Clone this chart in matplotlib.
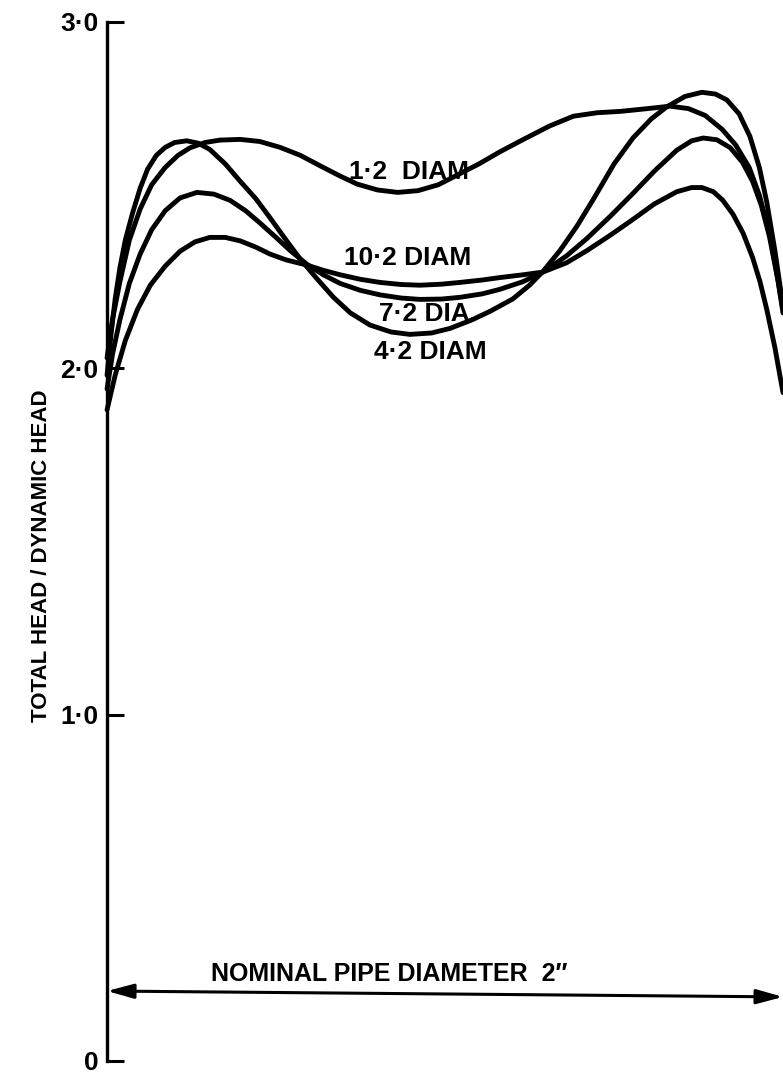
import matplotlib.pyplot as plt

# position across the pipe, as a fraction of the diameter (0 = one wall, 1 = the other)
x_42 = [0.0, 0.006, 0.012, 0.019, 0.027, 0.038, 0.049, 0.060, 0.073, 0.086, 0.100,
        0.118, 0.135, 0.152, 0.175, 0.197, 0.220, 0.241, 0.265, 0.286, 0.310, 0.335,
        0.360, 0.389, 0.420, 0.448, 0.480, 0.507, 0.540, 0.567, 0.600, 0.625, 0.645,
        0.670, 0.695, 0.720, 0.750, 0.778, 0.805, 0.828, 0.855, 0.880, 0.900, 0.917,
        0.935, 0.951, 0.965, 0.976, 0.988, 1.0]
head_42 = [1.98, 2.10, 2.20, 2.29, 2.37, 2.45, 2.52, 2.575, 2.615, 2.638, 2.652,
           2.657, 2.65, 2.632, 2.59, 2.54, 2.49, 2.435, 2.37, 2.315, 2.26, 2.205,
           2.16, 2.125, 2.105, 2.098, 2.102, 2.115, 2.14, 2.165, 2.20, 2.24, 2.28,
           2.34, 2.41, 2.49, 2.59, 2.665, 2.72, 2.755, 2.785, 2.797, 2.792, 2.775,
           2.735, 2.67, 2.58, 2.48, 2.34, 2.18]

x_12 = [0.0, 0.008, 0.019, 0.033, 0.049, 0.066, 0.086, 0.105, 0.123, 0.145, 0.167,
        0.197, 0.226, 0.256, 0.286, 0.315, 0.345, 0.370, 0.400, 0.430, 0.460, 0.490,
        0.520, 0.550, 0.581, 0.615, 0.655, 0.690, 0.725, 0.760, 0.800, 0.833, 0.860,
        0.885, 0.910, 0.930, 0.950, 0.965, 0.980, 0.993, 1.0]
head_12 = [2.03, 2.14, 2.25, 2.37, 2.46, 2.53, 2.58, 2.615, 2.637, 2.652, 2.659,
           2.661, 2.655, 2.638, 2.615, 2.585, 2.555, 2.532, 2.515, 2.508, 2.513, 2.53,
           2.56, 2.59, 2.625, 2.66, 2.70, 2.728, 2.738, 2.742, 2.75, 2.757, 2.75,
           2.73, 2.69, 2.645, 2.58, 2.50, 2.39, 2.25, 2.17]

x_72 = [0.0, 0.008, 0.019, 0.033, 0.049, 0.066, 0.086, 0.108, 0.133, 0.158, 0.182,
        0.205, 0.226, 0.250, 0.271, 0.296, 0.320, 0.345, 0.375, 0.404, 0.435, 0.463,
        0.495, 0.522, 0.555, 0.581, 0.615, 0.645, 0.680, 0.710, 0.745, 0.778, 0.810,
        0.843, 0.865, 0.882, 0.902, 0.922, 0.940, 0.955, 0.968, 0.980, 0.992, 1.0]
head_72 = [1.94, 2.04, 2.14, 2.245, 2.33, 2.40, 2.455, 2.492, 2.508, 2.503, 2.485,
           2.455, 2.42, 2.378, 2.34, 2.30, 2.27, 2.245, 2.225, 2.212, 2.203, 2.199,
           2.20, 2.205, 2.215, 2.228, 2.25, 2.278, 2.325, 2.375, 2.44, 2.505, 2.57,
           2.63, 2.657, 2.665, 2.66, 2.637, 2.595, 2.54, 2.47, 2.38, 2.26, 2.16]

x_102 = [0.0, 0.012, 0.027, 0.045, 0.064, 0.086, 0.108, 0.130, 0.152, 0.175, 0.197,
         0.220, 0.241, 0.265, 0.296, 0.320, 0.345, 0.375, 0.404, 0.435, 0.463, 0.495,
         0.522, 0.555, 0.581, 0.615, 0.645, 0.680, 0.710, 0.745, 0.778, 0.810, 0.843,
         0.865, 0.880, 0.897, 0.911, 0.926, 0.941, 0.955, 0.966, 0.976, 0.988, 1.0]
head_102 = [1.88, 1.98, 2.08, 2.17, 2.24, 2.295, 2.338, 2.365, 2.378, 2.378, 2.368,
            2.35, 2.33, 2.313, 2.298, 2.283, 2.27, 2.257, 2.248, 2.242, 2.24, 2.243,
            2.248, 2.255, 2.262, 2.27, 2.278, 2.305, 2.34, 2.385, 2.43, 2.475, 2.51,
            2.522, 2.522, 2.51, 2.485, 2.445, 2.39, 2.32, 2.25, 2.17, 2.06, 1.93]

# double-headed arrow marking the pipe wall to wall
arrow_y_left = 0.202
arrow_y_right = 0.185

y_ticks = [0, 1, 2, 3]
y_tick_labels = ['0', '1·0', '2·0', '3·0']

font = ['Liberation Sans', 'DejaVu Sans']

fig = plt.figure(figsize=(7.83, 10.73), dpi=100)
ax = fig.add_axes([0.1367, 0.0112, 0.8633, 0.9683])

line_style = dict(color='black', lw=3.5, solid_joinstyle='round',
                  solid_capstyle='round', clip_on=False)
ax.plot(x_42, head_42, **line_style)
ax.plot(x_12, head_12, **line_style)
ax.plot(x_72, head_72, **line_style)
ax.plot(x_102, head_102, **line_style)

label_style = dict(family=font, weight='bold', fontsize=19, ha='center', va='center')
ax.text(0.447, 2.567, '1·2  DIAM', **label_style)
ax.text(0.445, 2.319, '10·2 DIAM', **label_style)
ax.text(0.475, 2.157, '7·2 DIA.', **label_style)
ax.text(0.478, 2.047, '4·2 DIAM', **label_style)

ax.annotate('', xy=(1.0, arrow_y_right), xytext=(0.0, arrow_y_left),
            arrowprops=dict(arrowstyle='<|-|>,head_length=0.8,head_width=0.22',
                            mutation_scale=20, lw=2.2, color='black',
                            shrinkA=0, shrinkB=0),
            annotation_clip=False)
ax.text(0.417, 0.251, 'NOMINAL PIPE DIAMETER  2″', family=font, weight='bold',
        fontsize=18, ha='center', va='center')

ax.set_xlim(0, 1)
ax.set_ylim(0, 3)
for side in ['top', 'right', 'bottom']:
    ax.spines[side].set_visible(False)
ax.spines['left'].set_linewidth(2.4)
ax.set_xticks([])
ax.set_yticks(y_ticks)
ax.set_yticklabels(y_tick_labels, family=font, weight='bold', fontsize=19)
ax.tick_params(axis='y', direction='in', length=12, width=2.2, pad=6)

fig.text(0.0536, 0.482, 'TOTAL HEAD / DYNAMIC HEAD', family=font, weight='bold',
         fontsize=16, rotation=90, ha='center', va='center')

fig.savefig('out.png', dpi=100)
